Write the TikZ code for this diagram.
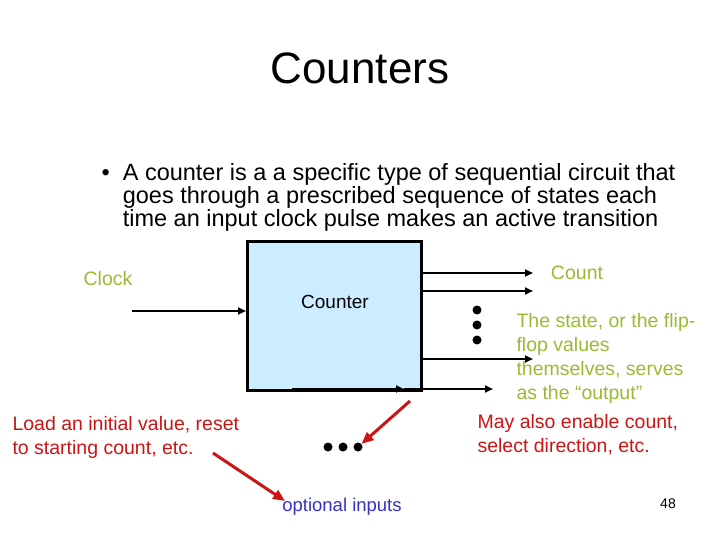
\documentclass[tikz,border=0pt]{standalone}
\usepackage{fontspec}
\setmainfont{Liberation Sans}
\usetikzlibrary{arrows.meta}
\definecolor{grn}{RGB}{153,187,51}
\definecolor{rd}{RGB}{204,20,20}
\definecolor{boxfill}{RGB}{204,236,255}
\begin{document}
\begin{tikzpicture}[x=1pt,y=-1pt,
  wire/.style={line width=2.4pt,-{Triangle[length=8pt,width=7pt]}},
  redarr/.style={rd,line width=3pt,-{Triangle[length=12pt,width=10pt]}},
  dot/.style={circle,fill=black,inner sep=0pt,minimum size=9pt},
  gtxt/.style={grn,font=\fontsize{19.5}{24}\selectfont,align=left},
  rtxt/.style={rd,font=\fontsize{19.5}{24}\selectfont,align=left}]
\useasboundingbox (0,0) rectangle (720,540);
\node (title) at (360,68) {\fontsize{44}{50}\selectfont Counters};
\node[anchor=north west,align=left,font=\fontsize{23.5}{23}\selectfont] (bul) at (98,160)
 {\textbullet\ \ A counter is a a specific type of sequential circuit that\\
 \phantom{\textbullet\ \ }goes through a prescribed sequence of states each\\
 \phantom{\textbullet\ \ }time an input clock pulse makes an active transition};
\node[draw,line width=3pt,fill=boxfill,minimum width=174pt,minimum height=149pt,anchor=north west] (ctr) at (246,240) {};
\node (ctrl) at (335,302) {\fontsize{19}{20}\selectfont Counter};
\coordinate (cin) at (132,311);
\draw[wire] (cin) -- (246,311);
\coordinate (o1) at (533,273); \coordinate (o2) at (533,291); \coordinate (o3) at (533,359);
\draw[wire] (420,273) -- (o1);
\draw[wire] (420,291) -- (o2);
\draw[wire] (420,359) -- (o3);
\coordinate (b1) at (292,389); \coordinate (b2) at (493,389);
\draw[wire] (b1) -- (404,389);
\draw[wire] (404,389) -- (b2);
\node[dot] (d1) at (477,310) {}; \node[dot] (d2) at (477,325) {}; \node[dot] (d3) at (477,340) {};
\node[dot] (e1) at (328,447) {}; \node[dot] (e2) at (343,447) {}; \node[dot] (e3) at (358,447) {};
\node[gtxt] (clk) at (108,279) {Clock};
\node[gtxt] (cnt) at (577,273) {Count};
\node[gtxt,anchor=north west] (st) at (513,310) {The state, or the flip-\\flop values\\themselves, serves\\as the “output”};
\node[rtxt,anchor=north west] (may) at (474,411) {May also enable count,\\select direction, etc.};
\node[rtxt,anchor=north west] (load) at (9,413) {Load an initial value, reset\\to starting count, etc.};
\node[font=\fontsize{18.5}{20}\selectfont,text={rgb,255:red,50;green,50;blue,200}] (opt) at (342,507) {optional inputs};
\node (pg) at (668,504) {\fontsize{14}{16}\selectfont 48};
\coordinate (r1s) at (410,401); \coordinate (r2s) at (213,453); \coordinate (r2e) at (285,501);
\draw[redarr] (r1s) -- (e3);
\draw[redarr] (r2s) -- (r2e);
\end{tikzpicture}
\end{document}
